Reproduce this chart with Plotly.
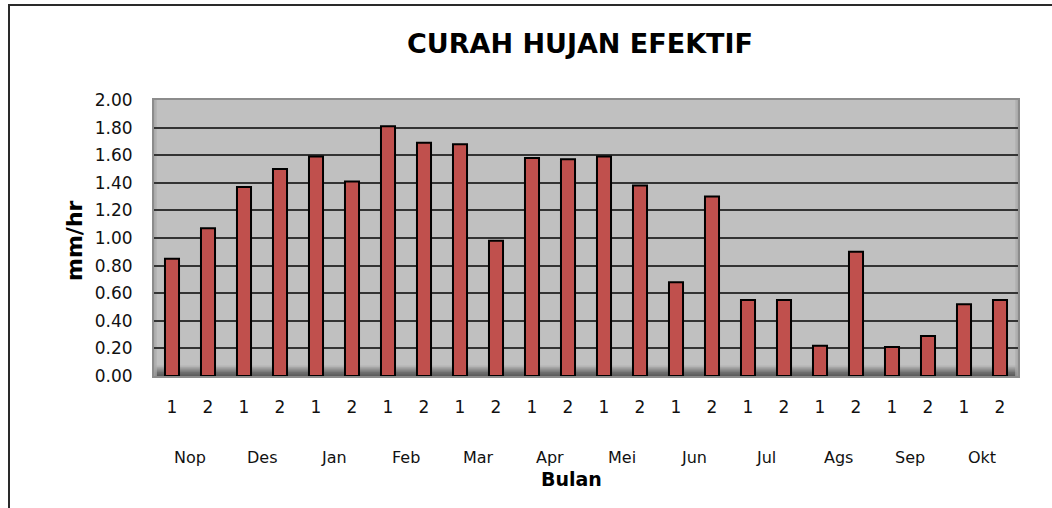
import plotly.graph_objects as go

months = ["Nop", "Des", "Jan", "Feb", "Mar", "Apr", "Mei", "Jun", "Jul", "Ags", "Sep", "Okt"]
halves = ["1", "2"]
values = [0.85, 1.07, 1.37, 1.50, 1.59, 1.41, 1.81, 1.69, 1.68, 0.98, 1.58, 1.57,
          1.59, 1.38, 0.68, 1.30, 0.55, 0.55, 0.22, 0.90, 0.21, 0.29, 0.52, 0.55]
y_ticks = [0.0, 0.2, 0.4, 0.6, 0.8, 1.0, 1.2, 1.4, 1.6, 1.8, 2.0]

W, H = 1052, 508
ML, MR, MT, MB = 154, 34, 100, 132
PW, PH = W - ML - MR, H - MT - MB

FONT = "DejaVu Sans"

x_idx = list(range(len(values)))
x_labels = [halves[i % 2] for i in x_idx]

fig = go.Figure()
fig.add_trace(go.Bar(
    x=x_idx, y=values,
    marker=dict(color="#C0504D", line=dict(color="#000000", width=2)),
    hoverinfo="y",
))

def px_x(p):
    return (p - ML) / PW

def px_y(p):
    return (H - MB - p) / PH

shapes = []
# floor shading at bottom of plot area
shade = ["#b4b4b4", "#a6a6a6", "#989898", "#8a8a8a", "#7c7c7c", "#6e6e6e", "#646464", "#5c5c5c"]
band = 1.3
for i, c in enumerate(shade):
    top = (len(shade) - i) * band
    shapes.append(dict(type="rect", xref="paper", yref="paper", x0=0, x1=1,
                       y0=0, y1=top / PH, fillcolor=c, line=dict(width=0), layer="below"))
# side shading
for k, c in enumerate(["#9a9a9a", "#adadad"]):
    shapes.append(dict(type="rect", xref="paper", yref="paper", x0=0, x1=(k + 1) * 1.5 / PW,
                       y0=0, y1=1, fillcolor=c, line=dict(width=0), layer="below", opacity=0.6))
    shapes.append(dict(type="rect", xref="paper", yref="paper", x0=1 - (k + 1) * 1.5 / PW, x1=1,
                       y0=0, y1=1, fillcolor=c, line=dict(width=0), layer="below", opacity=0.6))
# outer chart frame (left and top)
shapes.append(dict(type="line", xref="paper", yref="paper", x0=px_x(9), x1=px_x(9),
                   y0=px_y(H + 2), y1=px_y(5), line=dict(color="#2a2a2a", width=2)))
shapes.append(dict(type="line", xref="paper", yref="paper", x0=px_x(8), x1=px_x(W + 2),
                   y0=px_y(5), y1=px_y(5), line=dict(color="#2a2a2a", width=2)))

annotations = []
for m, name in enumerate(months):
    annotations.append(dict(x=2 * m + 0.5, y=0, xref="x", yref="paper", text=name,
                            showarrow=False, yanchor="middle", xanchor="center",
                            yshift=-(457 - (H - MB)),
                            font=dict(family=FONT, size=16, color="#111111")))
annotations.append(dict(x=px_x(571), y=0, xref="paper", yref="paper", text="<b>Bulan</b>",
                        showarrow=False, yanchor="middle", xanchor="center",
                        yshift=-(479 - (H - MB)),
                        font=dict(family=FONT, size=19, color="#000000")))
annotations.append(dict(x=px_x(74), y=0.5, xref="paper", yref="paper", text="<b>mm/hr</b>",
                        showarrow=False, textangle=-90, xanchor="center", yanchor="middle",
                        yshift=-3,
                        font=dict(family=FONT, size=22, color="#000000")))

fig.update_layout(
    width=W, height=H,
    margin=dict(l=ML, r=MR, t=MT, b=MB),
    paper_bgcolor="#ffffff",
    plot_bgcolor="#c0c0c0",
    showlegend=False,
    bargap=0.61,
    title=dict(text="<b>CURAH HUJAN EFEKTIF</b>", x=580 / W, xanchor="center",
               y=1 - 44 / H, yanchor="middle", xref="container", yref="container",
               font=dict(family=FONT, size=27, color="#000000")),
    font=dict(family=FONT, color="#111111"),
    shapes=shapes,
    annotations=annotations,
)

fig.update_xaxes(
    tickmode="array", tickvals=x_idx, ticktext=x_labels,
    range=[-0.5, len(values) - 0.5],
    showgrid=False, zeroline=False,
    showline=True, linecolor="#8c8c8c", linewidth=2, mirror=True,
    ticks="outside", ticklen=15, tickcolor="rgba(0,0,0,0)",
    tickfont=dict(family=FONT, size=17, color="#111111"),
)
fig.update_yaxes(
    range=[0, 2.0], tickmode="array", tickvals=y_ticks,
    ticktext=[f"{v:.2f}" for v in y_ticks],
    showgrid=True, gridcolor="#333333", gridwidth=1.5,
    zeroline=False,
    showline=True, linecolor="#8c8c8c", linewidth=2, mirror=True,
    ticks="outside", ticklen=16, tickcolor="rgba(0,0,0,0)",
    tickfont=dict(family=FONT, size=17, color="#111111"),
)

fig.write_html("out.html", config={"displayModeBar": False},
               post_script="document.body.style.margin='0';")
